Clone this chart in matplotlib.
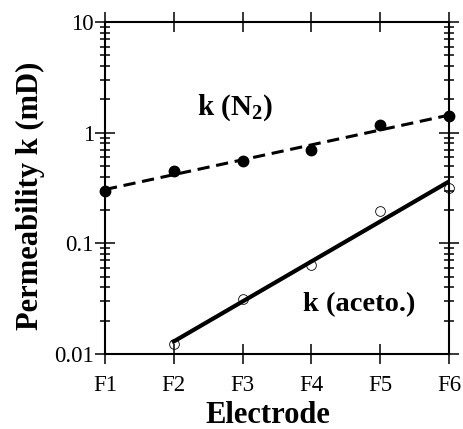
import numpy as np
import matplotlib.pyplot as plt
from matplotlib.ticker import FixedLocator, LogLocator, NullFormatter

plt.rcParams['font.family'] = ['Liberation Serif', 'DejaVu Serif']
plt.rcParams['mathtext.fontset'] = 'custom'
plt.rcParams['mathtext.rm'] = 'Liberation Serif'
plt.rcParams['mathtext.bf'] = 'Liberation Serif:bold'

electrodes = ['F1', 'F2', 'F3', 'F4', 'F5', 'F6']
pos = np.arange(1, 7)

# permeability to nitrogen, all electrodes
k_n2 = [0.30, 0.45, 0.55, 0.70, 1.18, 1.40]
# permeability to acetone, F2..F6
pos_ac = pos[1:]
k_aceto = [0.0123, 0.0314, 0.0637, 0.195, 0.316]

# exponential fits (straight lines on log axis)
p_n2 = np.polyfit(pos, np.log10(k_n2), 1)
p_ac = np.polyfit(pos_ac, np.log10(k_aceto), 1)

fig = plt.figure(figsize=(4.63, 4.29), dpi=100)
ax = fig.add_axes([0.2268, 0.1748, 0.743, 0.774])

ax.plot(pos, 10 ** np.polyval(p_n2, pos), color='k', lw=2.2,
        linestyle=(0, (4, 2.2)), zorder=2, clip_on=False)
ax.plot(pos, k_n2, 'o', color='k', ms=7.5, zorder=3, clip_on=False)

ax.plot(pos_ac, 10 ** np.polyval(p_ac, pos_ac), color='k', lw=3, zorder=2)
ax.plot(pos_ac, k_aceto, 'o', mfc='none', mec='k', mew=0.6, ms=7, zorder=3,
        clip_on=False)

ax.set_yscale('log')
ax.set_xlim(1, 6)
ax.set_ylim(0.01, 10)
ax.xaxis.set_major_locator(FixedLocator(pos))
ax.set_xticklabels(electrodes)
ax.yaxis.set_major_locator(FixedLocator([0.01, 0.1, 1, 10]))
ax.set_yticklabels(['0.01', '0.1', '1', '10'])
ax.yaxis.set_minor_locator(LogLocator(base=10, subs=np.arange(2, 10)))
ax.yaxis.set_minor_formatter(NullFormatter())

ax.tick_params(which='major', direction='inout', length=14, width=1.1,
               top=True, right=True, labelsize=16.5)
ax.tick_params(axis='x', which='major', pad=8)
ax.tick_params(axis='y', which='major', pad=1)
ax.tick_params(which='minor', direction='inout', length=7, width=1.1,
               right=True)
for s in ax.spines.values():
    s.set_linewidth(1.5)

ax.set_xlabel('Electrode', fontsize=22, fontweight='bold')
ax.set_ylabel('Permeability k (mD)', fontsize=22, fontweight='bold')
ax.xaxis.set_label_coords(0.474, -0.143)
ax.yaxis.set_label_coords(-0.175, 0.476)

ax.text(2.34, 1.68, r'k ($\mathbf{N_2}$)', fontsize=21, fontweight='bold',
        ha='left', va='center')
ax.text(3.88, 0.0277, 'k (aceto.)', fontsize=20.5, fontweight='bold',
        ha='left', va='center')

fig.savefig('out.png', dpi=100)
